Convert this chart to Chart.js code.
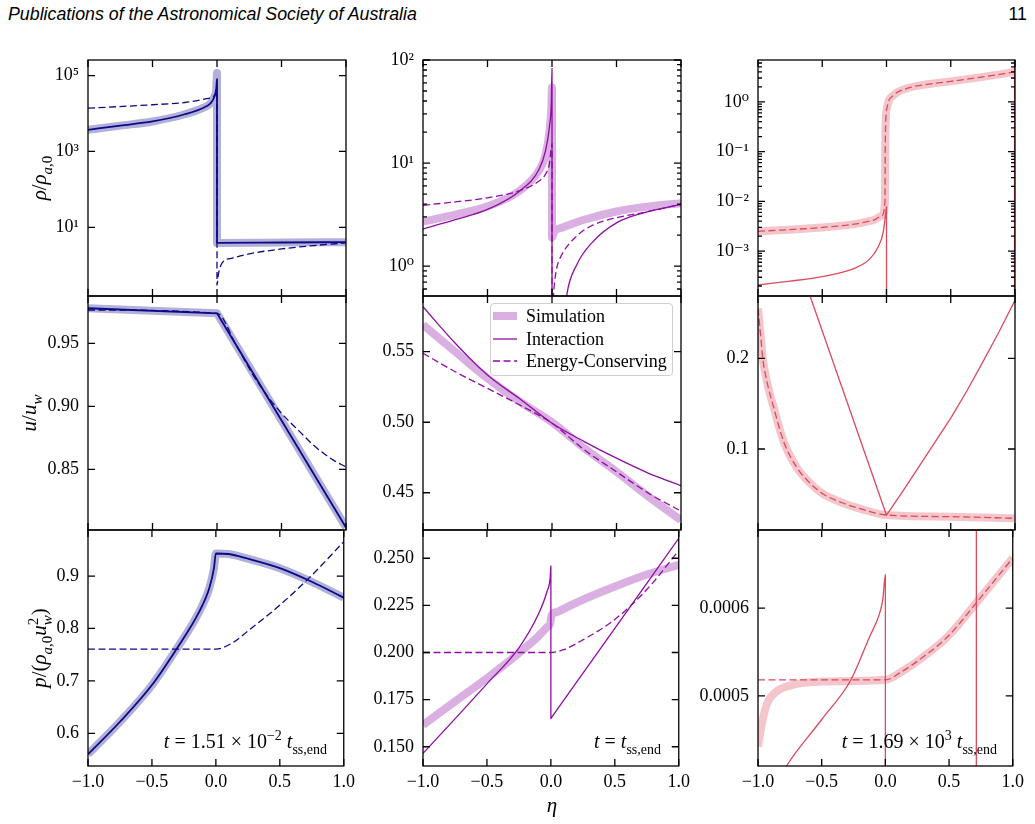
<!DOCTYPE html>
<html>
<head>
<meta charset="utf-8">
<script src="https://cdn.jsdelivr.net/npm/chart.js@4.4.1/dist/chart.umd.min.js"></script>
<style>
  body { margin: 0; background: #fff; }
  #page { position: relative; width: 1035px; height: 824px; overflow: hidden; background: #fff; }
  #page canvas { position: absolute; }
  .hdr { position: absolute; top: 4px; font: italic 17.8px "Liberation Sans", Arial, sans-serif; color: #000; line-height: 20px; }
  #legend { position: absolute; left: 490px; top: 303px; width: 181px; height: 71px; border: 1px solid #cfcfcf;
            border-radius: 4px; background: rgba(255,255,255,0.85); z-index: 5; }
  #legend .lab { position: absolute; left: 35px; font: 18px "Liberation Serif", serif; line-height: 22px; color: #000; white-space: nowrap; }
</style>
</head>
<body>
<div id="page">
  <div class="hdr" style="left:8px">Publications of the Astronomical Society of Australia</div>
  <div class="hdr" style="right:8px;font-style:normal">11</div>
  <div id="legend">
    <svg width="30" height="70" style="position:absolute;left:1px;top:0">
      <line x1="1" y1="12" x2="25" y2="12" stroke="rgba(143,13,164,0.33)" stroke-width="8"/>
      <line x1="1" y1="35" x2="25" y2="35" stroke="#8f0da4" stroke-width="1.3"/>
      <line x1="1" y1="57" x2="25" y2="57" stroke="#8f0da4" stroke-width="1.3" stroke-dasharray="7 3.5"/>
    </svg>
    <div class="lab" style="top:1px">Simulation</div>
    <div class="lab" style="top:24px">Interaction</div>
    <div class="lab" style="top:46px">Energy-Conserving</div>
  </div>
</div>
<script>
// shared eta axis
const etaTicks = [-1, -0.5, 0, 0.5, 1];
const etaLabels = ['−1.0', '−0.5', '0.0', '0.5', '1.0'];

// ---- density, t = 1.51e-2 t_ss,end ----
const rhoA_simX = [-1, -0.75, -0.5, -0.25, -0.1, -0.05, -0.02, -0.005, 0, 0, 0.5, 1];
const rhoA_simY = [3715, 4786, 6166, 9550, 14450, 18620, 28180, 46770, 117500, 3.89, 3.98, 4.07];
const rhoA_intY = [3715, 4786, 6166, 9550, 14450, 18620, 28180, 46770, 80000, 3.89, 3.98, 4.07];
const rhoA_dashX = [-1, -0.5, -0.25, -0.1, -0.03, -0.01, 0, 0, 0.01, 0.04, 0.12, 0.25, 0.5, 0.75, 1];
const rhoA_dashY = [13800, 17000, 19500, 24000, 28200, 34700, 56000, 0.30, 0.56, 1.15, 1.55, 2.0, 2.69, 3.31, 3.89];
const rhoA_ticks = [10, 1e3, 1e5];
const rhoA_labels = ['10¹', '10³', '10⁵'];

// ---- density, t = t_ss,end ----
const rhoB_simX = [-1, -0.75, -0.5, -0.25, -0.1, -0.05, -0.02, -0.005, 0, 0, 0.02, 0.07, 0.25, 0.5, 0.75, 1];
const rhoB_simY = [2.7, 3.16, 3.8, 5.4, 8.5, 12, 20, 35, 54, 1.9, 2.19, 2.34, 2.82, 3.39, 3.8, 4.07];
const rhoB_intX = [-1, -0.75, -0.5, -0.25, -0.1, -0.05, -0.02, -0.005, 0, 0, 0.1, 0.114, 0.19, 0.32, 0.5, 0.75, 1];
const rhoB_intY = [2.29, 2.82, 3.55, 5.37, 8.7, 13.2, 22.4, 40, 83, 0.3, 0.35, 0.52, 1.02, 1.74, 2.63, 3.39, 3.98];
const rhoB_dashX = [-1, -0.75, -0.5, -0.25, -0.1, -0.05, -0.02, 0, 0, 0.015, 0.036, 0.062, 0.19, 0.32, 0.5, 0.75, 1];
const rhoB_dashY = [3.89, 4.2, 4.6, 5.4, 6.7, 7.8, 9.8, 15.4, 0.3, 0.6, 0.95, 1.19, 1.95, 2.51, 2.95, 3.39, 3.98];
const rhoB_ticks = [1, 10, 100];
const rhoB_labels = ['10⁰', '10¹', '10²'];

// ---- density, t = 1.69e3 t_ss,end ----
const rhoC_simX = [-1, -0.5, -0.25, -0.1, -0.035, -0.012, -0.01, -0.006, 0.003, 0.055, 0.16, 0.29, 0.5, 0.75, 1];
const rhoC_simY = [2.5e-3, 3.0e-3, 3.5e-3, 4.2e-3, 5.2e-3, 0.01, 0.1, 0.4, 0.74, 1.35, 1.86, 2.19, 2.57, 3.16, 3.98];
const rhoC_intX = [-1, -0.751, -0.5, -0.25, -0.128, -0.064, -0.025, -0.004, 0, 0, 0.996, 0.997, 1];
const rhoC_intY = [2.1e-4, 2.5e-4, 3.1e-4, 4.5e-4, 7.1e-4, 1.23e-3, 2.45e-3, 6.5e-3, 7.8e-3, 1e-5, 1e-5, 100, 100];
const rhoC_ticks = [1e-3, 1e-2, 1e-1, 1];
const rhoC_labels = ['10⁻³', '10⁻²', '10⁻¹', '10⁰'];

// ---- velocity ----
const uA_simX = [-1, 0, 1];
const uA_simY = [0.9778, 0.9738, 0.804];
const uA_dashX = [-1, 0, 0.15, 0.282, 0.385, 0.501, 0.643, 0.747, 0.902, 1];
const uA_dashY = [0.9764, 0.9738, 0.9483, 0.9245, 0.909, 0.8944, 0.8798, 0.8693, 0.8574, 0.852];
const uA_ticks = [0.85, 0.90, 0.95];
const uA_labels = ['0.85', '0.90', '0.95'];

const uB_x = [-1, -0.75, -0.5, -0.25, 0, 0.25, 0.5, 0.75, 1];
const uB_simY = [0.569, 0.55, 0.5311, 0.5146, 0.50, 0.4816, 0.4649, 0.4472, 0.4306];
const uB_intY = [0.5819, 0.556, 0.5335, 0.5166, 0.4993, 0.4863, 0.4745, 0.4638, 0.4551];
const uB_dashY = [0.5489, 0.5358, 0.524, 0.5122, 0.4993, 0.4804, 0.4649, 0.4496, 0.437];
const uB_ticks = [0.45, 0.50, 0.55];
const uB_labels = ['0.45', '0.50', '0.55'];

const uC_simX = [-1, -0.98, -0.963, -0.93, -0.88, -0.8, -0.7, -0.6, -0.5, -0.35, -0.2, 0, 0.5, 1];
const uC_simY = [0.255, 0.226, 0.2, 0.174, 0.147, 0.108, 0.08, 0.063, 0.051, 0.041, 0.034, 0.0272, 0.0254, 0.0236];
const uC_intX = [-1, -0.595, -0.3, 0, 0.125, 0.25, 0.375, 0.5, 0.625, 0.75, 0.875, 1];
const uC_intY = [0.43, 0.2687, 0.149, 0.027, 0.053, 0.08, 0.107, 0.134, 0.164, 0.196, 0.229, 0.264];
const uC_ticks = [0.1, 0.2];
const uC_labels = ['0.1', '0.2'];

// ---- pressure ----
const pA_simX = [-1, -0.75, -0.5, -0.31, -0.13, -0.05, -0.015, 0, 0.1, 0.25, 0.5, 0.75, 1];
const pA_simY = [0.56, 0.622, 0.692, 0.76, 0.832, 0.878, 0.915, 0.943, 0.942, 0.933, 0.915, 0.889, 0.8587];
const pA_dashX = [-1, -0.5, 0, 0.127, 0.25, 0.501, 0.752, 1];
const pA_dashY = [0.7606, 0.7606, 0.7606, 0.772, 0.795, 0.8447, 0.9019, 0.9655];
const pA_ticks = [0.6, 0.7, 0.8, 0.9];
const pA_labels = ['0.6', '0.7', '0.8', '0.9'];

const pB_simX = [-1, -0.75, -0.5, -0.25, -0.1, -0.03, -0.005, 0.005, 0.05, 0.1, 0.25, 0.5, 0.75, 1];
const pB_simY = [0.1616, 0.174, 0.1864, 0.1997, 0.2085, 0.2135, 0.2155, 0.2198, 0.2215, 0.2232, 0.228, 0.235, 0.2414, 0.2465];
const pB_intX = [-1, -0.75, -0.5, -0.25, -0.1, -0.03, -0.005, 0, 0, 0.002, 0.25, 0.5, 0.75, 1];
const pB_intY = [0.1465, 0.1648, 0.1834, 0.2025, 0.22, 0.2324, 0.24, 0.246, 0.165, 0.1652, 0.1889, 0.2128, 0.2367, 0.2606];
const pB_dashX = [-1, -0.5, 0, 0.1, 0.25, 0.5, 0.75, 1];
const pB_dashY = [0.2, 0.2, 0.2, 0.2015, 0.2067, 0.2175, 0.2334, 0.2541];
const pB_ticks = [0.15, 0.175, 0.2, 0.225, 0.25];
const pB_labels = ['0.150', '0.175', '0.200', '0.225', '0.250'];

const pC_simX = [-1, -0.971, -0.932, -0.854, -0.75, -0.492, 0, 0.13, 0.285, 0.5, 0.712, 1];
const pC_simY = [0.000442, 0.000467, 0.00049, 0.000505, 0.0005117, 0.0005163, 0.0005182, 0.0005277, 0.000543, 0.000569, 0.0006057, 0.000657];
const pC_dashX = [-1, -0.5, 0, 0.13, 0.285, 0.5, 0.712, 1];
const pC_dashY = [0.0005182, 0.0005182, 0.0005182, 0.0005277, 0.000543, 0.000569, 0.0006057, 0.000657];
const pC_intX = [-1, -0.777, -0.5, -0.271, -0.128, -0.05, -0.02, 0, 0, 0.714, 0.7145, 1];
const pC_intY = [0.00036, 0.00042, 0.000473, 0.000518, 0.000566, 0.000592, 0.00061, 0.000638, 0.0003, 0.0003, 0.0009, 0.0009];
const pC_ticks = [0.0005, 0.0006];
const pC_labels = ['0.0005', '0.0006'];

const SERIF = '"Liberation Serif", "DejaVu Serif", serif';
const lineColors = ['#0d0887', '#8f0da4', '#dd4a5c'];
const simColors = ['rgba(13,8,135,0.32)', 'rgba(143,13,164,0.33)', 'rgba(221,74,92,0.32)'];

// page geometry of the plot areas
const colLeft = [88, 423, 758], colW = [258, 258, 257];
const rowTop = [60, 296, 530], rowH = [236, 234, 236];
const AXW = 88, PADT = 22, PADR = 14;

// rich text: [text, style] with r roman, i italic, s sub, si sub italic, p sup, P sup stacked over previous
function drawSegs(ctx, segs, x, y, paint, big, small) {
  let cx = x, prevStart = x;
  segs.forEach(([t, s]) => {
    const isSmall = s !== 'r' && s !== 'i';
    const ital = s === 'i' || s === 'si';
    ctx.font = (ital ? 'italic ' : '') + (isSmall ? small : big) + 'px ' + SERIF;
    const w = ctx.measureText(t).width;
    const dy = (s === 's' || s === 'si') ? big * 0.28 : (s === 'p' || s === 'P') ? -big * 0.4 : 0;
    let sx = cx;
    if (s === 'P') sx = prevStart;
    if (paint) ctx.fillText(t, sx, y + dy);
    prevStart = sx;
    cx = Math.max(cx, sx + w);
  });
  return cx - x;
}

const decor = {
  id: 'decor',
  afterDraw(chart, args, o) {
    const ctx = chart.ctx;
    const {left, right, top, bottom} = chart.chartArea;
    const xs = chart.scales.x, ys = chart.scales.y;
    ctx.save();
    ctx.strokeStyle = '#000';
    ctx.lineWidth = 1.3;
    ctx.beginPath();
    const seg = (a, b, c, d) => { ctx.moveTo(a, b); ctx.lineTo(c, d); };
    etaTicks.forEach(v => {
      const p = xs.getPixelForValue(v);
      seg(p, bottom, p, bottom - 7); seg(p, top, p, top + 7);
    });
    o.yTicks.forEach(v => {
      const p = ys.getPixelForValue(v);
      seg(left, p, left + 7, p); seg(right, p, right - 7, p);
    });
    if (o.minor) {
      const d0 = Math.floor(Math.log10(ys.min)), d1 = Math.ceil(Math.log10(ys.max));
      for (let d = d0; d <= d1; d++) {
        for (let k = 2; k <= 9; k++) {
          const v = k * Math.pow(10, d);
          if (v <= ys.min || v >= ys.max) continue;
          const p = ys.getPixelForValue(v);
          seg(left, p, left + 4, p); seg(right, p, right - 4, p);
        }
      }
    }
    ctx.stroke();
    ctx.strokeRect(left, top, right - left, bottom - top);

    ctx.fillStyle = '#000';
    ctx.textBaseline = 'alphabetic';
    if (o.yTitle) {
      const w = drawSegs(ctx, o.yTitle, 0, 0, false, 21, 15);
      ctx.save();
      ctx.translate(o.yTitleX - o.ox, (top + bottom) / 2);
      ctx.rotate(-Math.PI / 2);
      drawSegs(ctx, o.yTitle, -w / 2, 7, true, 21, 15);
      ctx.restore();
    }
    if (o.note) {
      const w = drawSegs(ctx, o.note, 0, 0, false, 20, 14);
      drawSegs(ctx, o.note, o.noteRight - o.ox - w, 748 - o.oy, true, 20, 14);
    }
    if (o.xTitle) {
      const w = drawSegs(ctx, o.xTitle, 0, 0, false, 21, 15);
      drawSegs(ctx, o.xTitle, 552 - o.ox - w / 2, 812 - o.oy, true, 21, 15);
    }
    ctx.restore();
  }
};

const rhoTitle = [['ρ', 'i'], ['/', 'r'], ['ρ', 'i'], ['a', 'si'], [',0', 's']];
const uTitle = [['u', 'i'], ['/', 'r'], ['u', 'i'], ['w', 'si']];
const pTitle = [['p', 'i'], ['/(', 'r'], ['ρ', 'i'], ['a', 'si'], [',0', 's'], ['u', 'i'], ['w', 'si'], ['2', 'P'], [')', 'r']];
const etaTitle = [['η', 'i']];
const noteA = [['t', 'i'], [' = 1.51 × 10', 'r'], ['−2', 'p'], [' ', 'r'], ['t', 'i'], ['ss,end', 's']];
const noteB = [['t', 'i'], [' = ', 'r'], ['t', 'i'], ['ss,end', 's']];
const noteC = [['t', 'i'], [' = 1.69 × 10', 'r'], ['3', 'p'], [' ', 'r'], ['t', 'i'], ['ss,end', 's']];

const panels = [
  {col: 0, row: 0, log: true, min: 0.155, max: 2.57e5, ticks: rhoA_ticks, labels: rhoA_labels, minor: false, title: rhoTitle,
   series: [[rhoA_simX, rhoA_simY, 'sim'], [rhoA_simX, rhoA_intY, 'int'], [rhoA_dashX, rhoA_dashY, 'dash']]},
  {col: 1, row: 0, log: true, min: 0.513, max: 100, ticks: rhoB_ticks, labels: rhoB_labels, minor: true,
   series: [[rhoB_simX, rhoB_simY, 'sim'], [rhoB_intX, rhoB_intY, 'int'], [rhoB_dashX, rhoB_dashY, 'dash']]},
  {col: 2, row: 0, log: true, min: 1.26e-4, max: 6.9, ticks: rhoC_ticks, labels: rhoC_labels, minor: true,
   series: [[rhoC_simX, rhoC_simY, 'sim'], [rhoC_intX, rhoC_intY, 'int'], [rhoC_simX, rhoC_simY, 'dash']]},
  {col: 0, row: 1, min: 0.802, max: 0.9875, ticks: uA_ticks, labels: uA_labels, title: uTitle,
   series: [[uA_simX, uA_simY, 'sim', true], [uA_simX, uA_simY, 'int', true], [uA_dashX, uA_dashY, 'dash']]},
  {col: 1, row: 1, min: 0.4236, max: 0.5895, ticks: uB_ticks, labels: uB_labels,
   series: [[uB_x, uB_simY, 'sim'], [uB_x, uB_intY, 'int'], [uB_x, uB_dashY, 'dash']]},
  {col: 2, row: 1, min: 0.0107, max: 0.2687, ticks: uC_ticks, labels: uC_labels,
   series: [[uC_simX, uC_simY, 'sim'], [uC_intX, uC_intY, 'int', true], [uC_simX, uC_simY, 'dash']]},
  {col: 0, row: 2, min: 0.5376, max: 0.9878, ticks: pA_ticks, labels: pA_labels, title: pTitle, note: noteA, noteRight: 327,
   series: [[pA_simX, pA_simY, 'sim'], [pA_simX, pA_simY, 'int'], [pA_dashX, pA_dashY, 'dash']]},
  {col: 1, row: 2, min: 0.1398, max: 0.265, ticks: pB_ticks, labels: pB_labels, note: noteB, noteRight: 661, xTitle: etaTitle,
   series: [[pB_simX, pB_simY, 'sim'], [pB_intX, pB_intY, 'int'], [pB_dashX, pB_dashY, 'dash']]},
  {col: 2, row: 2, min: 0.00042, max: 0.000689, ticks: pC_ticks, labels: pC_labels, note: noteC, noteRight: 997,
   series: [[pC_simX, pC_simY, 'sim'], [pC_intX, pC_intY, 'int'], [pC_dashX, pC_dashY, 'dash']]}
];
const titleX = [39, 29, 39];

function makeDataset(xs, ys, kind, col, straight) {
  const d = {
    data: xs.map((x, i) => ({x: x, y: ys[i]})),
    pointRadius: 0, fill: false, clip: 0, capBezierPoints: false,
    borderJoinStyle: 'round'
  };
  if (straight) { d.tension = 0; } else { d.cubicInterpolationMode = 'monotone'; }
  if (kind === 'sim') { d.borderColor = simColors[col]; d.borderWidth = 8; d.order = 3; }
  if (kind === 'int') { d.borderColor = lineColors[col]; d.borderWidth = col === 0 ? 1.8 : 1.3; d.order = 2; }
  if (kind === 'dash') { d.borderColor = lineColors[col]; d.borderWidth = 1.3; d.borderDash = [7, 3.5]; d.order = 1; }
  return d;
}

const page = document.getElementById('page');
panels.forEach(p => {
  const ox = colLeft[p.col] - AXW, oy = rowTop[p.row] - PADT;
  const bottomRow = p.row === 2;
  const padB = bottomRow ? 0 : 22;
  const W = AXW + colW[p.col] + PADR;
  const H = PADT + rowH[p.row] + (bottomRow ? 60 : padB);
  const cv = document.createElement('canvas');
  cv.width = W; cv.height = H;
  cv.style.left = ox + 'px'; cv.style.top = oy + 'px';
  cv.style.width = W + 'px'; cv.style.height = H + 'px';
  page.appendChild(cv);

  new Chart(cv.getContext('2d'), {
    type: 'line',
    data: { datasets: p.series.map(s => makeDataset(s[0], s[1], s[2], p.col, s[3])) },
    plugins: [decor],
    options: {
      responsive: false,
      devicePixelRatio: 1,
      animation: false,
      events: [],
      layout: { padding: { left: 0, top: PADT, right: PADR, bottom: padB } },
      plugins: {
        legend: { display: false },
        tooltip: { enabled: false },
        decor: {
          ox: ox, oy: oy, yTicks: p.ticks, minor: !!p.minor,
          yTitle: p.col === 0 ? p.title : null, yTitleX: titleX[p.row],
          note: p.note || null, noteRight: p.noteRight, xTitle: p.xTitle || null
        }
      },
      scales: {
        x: {
          type: 'linear', min: -1, max: 1, bounds: 'data',
          display: bottomRow,
          grid: { display: false, drawTicks: false },
          border: { display: false },
          afterBuildTicks: s => { s.ticks = etaTicks.map(v => ({value: v})); },
          afterFit: s => { s.height = bottomRow ? 60 : 0; },
          ticks: {
            autoSkip: false, maxRotation: 0, padding: 5, color: '#000',
            font: { family: SERIF, size: 18 },
            callback: (v, i) => etaLabels[i]
          }
        },
        y: {
          type: p.log ? 'logarithmic' : 'linear',
          min: p.min, max: p.max, bounds: 'data',
          grid: { display: false, drawTicks: false },
          border: { display: false },
          afterBuildTicks: s => { s.ticks = p.ticks.map(v => ({value: v})); },
          afterFit: s => { s.width = AXW; },
          ticks: {
            autoSkip: false, padding: 9, color: '#000',
            font: { family: SERIF, size: 18 },
            callback: (v, i) => p.labels[i]
          }
        }
      }
    }
  });
});
</script>
</body>
</html>
